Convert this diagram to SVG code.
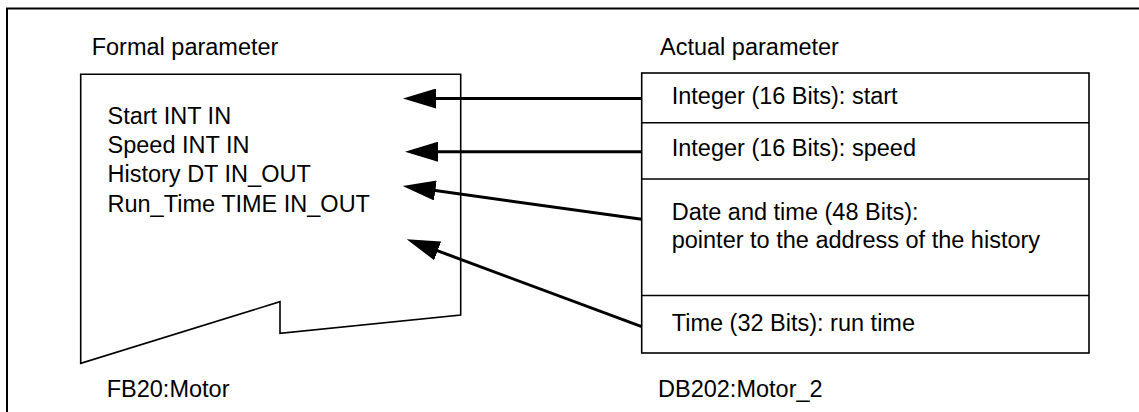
<svg xmlns="http://www.w3.org/2000/svg" width="1139" height="412" viewBox="0 0 1139 412">
  <style>
    .t { font-family: "Liberation Sans", Arial, sans-serif; font-size: 23.5px; fill: #000; }
    .box { fill: #fff; stroke: #000; stroke-width: 1.6; }
    .div { stroke: #000; stroke-width: 1.6; fill: none; }
    .frame { stroke: #000; stroke-width: 2; fill: none; }
    .conn { stroke: #000; stroke-width: 3; fill: none; marker-end: url(#head); }
  </style>
  <defs>
    <marker id="head" viewBox="0 0 33 20" refX="27" refY="10" markerWidth="33" markerHeight="20" markerUnits="userSpaceOnUse" orient="auto">
      <path d="M0,0 L33,10 L0,20 Z" fill="#000"/>
    </marker>
  </defs>
  <rect width="1139" height="412" fill="#fff"/>
  <path class="frame" d="M7,412 L7,8.5 L1139,8.5"/>

  <g id="formal-parameter">
    <text class="t" x="91.7" y="55">Formal parameter</text>
    <path class="box" d="M80.7,74.3 L460.7,74.3 L460.7,315 L280,333.3 L280,301.7 L80.7,363.3 Z"/>
    <text class="t" x="107.5" y="123.5">Start INT IN</text>
    <text class="t" x="107.5" y="153">Speed INT IN</text>
    <text class="t" x="107.5" y="182">History DT IN_OUT</text>
    <text class="t" x="107.5" y="211.5">Run_Time TIME IN_OUT</text>
    <text class="t" x="106.7" y="397">FB20:Motor</text>
  </g>

  <g id="actual-parameter">
    <text class="t" x="660" y="55">Actual parameter</text>
    <rect class="box" x="641.7" y="73" width="447.3" height="280"/>
    <g id="row-start">
      <text class="t" x="671.7" y="104">Integer (16 Bits): start</text>
    </g>
    <line class="div" x1="641.7" y1="122.7" x2="1089" y2="122.7"/>
    <g id="row-speed">
      <text class="t" x="671.7" y="156">Integer (16 Bits): speed</text>
    </g>
    <line class="div" x1="641.7" y1="179" x2="1089" y2="179"/>
    <g id="row-history">
      <text class="t" x="671.7" y="220">Date and time (48 Bits):</text>
      <text class="t" x="671.7" y="248">pointer to the address of the history</text>
    </g>
    <line class="div" x1="641.7" y1="295.5" x2="1089" y2="295.5"/>
    <g id="row-runtime">
      <text class="t" x="671.7" y="331">Time (32 Bits): run time</text>
    </g>
    <text class="t" x="658" y="397">DB202:Motor_2</text>
  </g>

  <g id="connectors">
    <line class="conn" x1="641.7" y1="98.5" x2="409" y2="98.5"/>
    <line class="conn" x1="641.7" y1="151.7" x2="411" y2="151.7"/>
    <line class="conn" x1="641.7" y1="219.3" x2="408.6" y2="186.8"/>
    <line class="conn" x1="641.7" y1="326.7" x2="412.3" y2="241.4"/>
  </g>
</svg>
